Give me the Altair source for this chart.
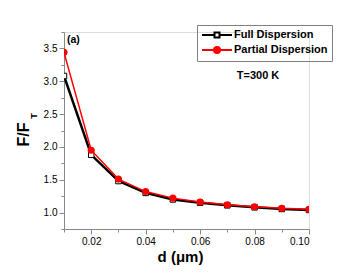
import altair as alt
import pandas as pd

d_vals = [0.01, 0.02, 0.03, 0.04, 0.05, 0.06, 0.07, 0.08, 0.09, 0.10]
full_vals = [3.08, 1.88, 1.48, 1.30, 1.20, 1.15, 1.11, 1.08, 1.055, 1.04]
partial_vals = [3.44, 1.95, 1.51, 1.32, 1.22, 1.16, 1.12, 1.09, 1.065, 1.05]
series_names = ["Full Dispersion", "Partial Dispersion"]
x_ticks = [0.01, 0.02, 0.03, 0.04, 0.05, 0.06, 0.07, 0.08, 0.09, 0.10]
y_ticks = [0.75, 1.0, 1.25, 1.5, 1.75, 2.0, 2.25, 2.5, 2.75, 3.0, 3.25, 3.5, 3.75]

df_full = pd.DataFrame({"d": d_vals, "F": full_vals, "series": series_names[0]})
df_part = pd.DataFrame({"d": d_vals, "F": partial_vals, "series": series_names[1]})
df_leg = pd.DataFrame({"d": [-1.0, -1.0], "F": [-1.0, -1.0], "series": series_names})

FONT = "Liberation Sans"

xscale = alt.Scale(domain=[0.01, 0.10], nice=False, zero=False)
yscale = alt.Scale(domain=[0.75, 3.75], nice=False, zero=False)

xaxis = alt.Axis(
    values=x_ticks,
    labelExpr="round(datum.value*100) % 2 == 0 ? format(datum.value, '.2f') : ''",
    tickSize={"condition": {"test": "round(datum.value*100) % 2 == 0", "value": 5}, "value": 3},
    title="d (\u03bcm)",
    titleX=116, titleY=32, titleBaseline="alphabetic", titleFontSize=15,
    grid=False,
)
yaxis = alt.Axis(
    values=y_ticks,
    labelExpr="round(datum.value*4) % 2 == 0 ? format(datum.value, '.1f') : ''",
    tickSize={"condition": {"test": "round(datum.value*4) % 2 == 0", "value": 5}, "value": 3},
    title="F/F",
    titleX=-36, titleY=102, titleAngle=270, titleBaseline="alphabetic", titleAlign="center",
    titleFontSize=16,
    grid=False,
)

X = alt.X("d:Q", scale=xscale, axis=xaxis)
Y = alt.Y("F:Q", scale=yscale, axis=yaxis)

full_line = alt.Chart(df_full).mark_line(color="#000000", strokeWidth=2.5, clip=True).encode(x=X, y=Y)
full_pts = alt.Chart(df_full).mark_point(
    shape="square", filled=True, fill="#ffffff", stroke="#000000", strokeWidth=1, size=30, opacity=1, clip=True
).encode(x=X, y=Y)
part_line = alt.Chart(df_part).mark_line(color="#ff0000", strokeWidth=1.5, clip=True).encode(x=X, y=Y)
part_pts = alt.Chart(df_part).mark_circle(color="#ff0000", size=50, opacity=1, clip=True).encode(x=X, y=Y)

# legend glyphs: a line segment with the series marker, in symbol units (5 px per unit)
sq_path = "M-1,0H1.5M2.5,0H5M1.5,-0.5H2.5V0.5H1.5Z"
ci_path = "M-1,0H5M2.6,0A0.6,0.6 0 1,1 1.4,0A0.6,0.6 0 1,1 2.6,0Z"

legend = alt.Legend(
    title=None, orient="none", legendX=133, legendY=-7,
    strokeColor="#808080", padding=4, symbolSize=100, symbolStrokeWidth=2,
    labelFont=FONT, labelFontSize=11, labelFontWeight="bold", labelColor="#000000",
    labelOffset=21, rowPadding=1, symbolOpacity=1,
)
leg_layer = alt.Chart(df_leg).mark_point(clip=True, filled=True, opacity=1, strokeWidth=2).encode(
    x=X, y=Y,
    shape=alt.Shape("series:N", scale=alt.Scale(domain=series_names, range=[sq_path, ci_path]), legend=legend),
    stroke=alt.Stroke("series:N", scale=alt.Scale(domain=series_names, range=["#000000", "#ff0000"]), legend=legend),
    fill=alt.Fill("series:N", scale=alt.Scale(domain=series_names, range=["#ffffff", "#ff0000"]), legend=legend),
)

txt_a = alt.Chart(pd.DataFrame({"t": ["(a)"]})).mark_text(
    font=FONT, fontSize=10.5, fontWeight="bold", align="left", baseline="middle", color="#000000"
).encode(x=alt.value(3), y=alt.value(8), text="t:N")
txt_T = alt.Chart(pd.DataFrame({"t": ["T=300 K"]})).mark_text(
    font=FONT, fontSize=11, fontWeight="bold", align="center", baseline="middle", color="#000000"
).encode(x=alt.value(194), y=alt.value(44), text="t:N")
txt_sub = alt.Chart(pd.DataFrame({"t": ["T"]})).mark_text(
    font=FONT, fontSize=9, fontWeight="bold", align="center", baseline="middle", angle=270, color="#000000"
).encode(x=alt.value(-30), y=alt.value(84), text="t:N")

chart = alt.layer(full_line, full_pts, part_line, part_pts, leg_layer, txt_a, txt_T, txt_sub).properties(
    width=245, height=197,
    autosize=alt.AutoSizeParams(type="none"),
    padding={"left": 56, "top": 24, "right": 42, "bottom": 38},
).configure_view(stroke=None).configure_axis(
    domainColor="#000000", domainWidth=2, tickColor="#000000", tickWidth=1.5,
    labelFont=FONT, labelFontSize=10.5, labelFontWeight="bold", labelColor="#000000", labelPadding=3,
    titleFont=FONT, titleFontSize=15, titleFontWeight="bold", titleColor="#000000",
).configure(background="#ffffff")

chart.save("out.html", embed_options={"renderer": "svg", "actions": False})
